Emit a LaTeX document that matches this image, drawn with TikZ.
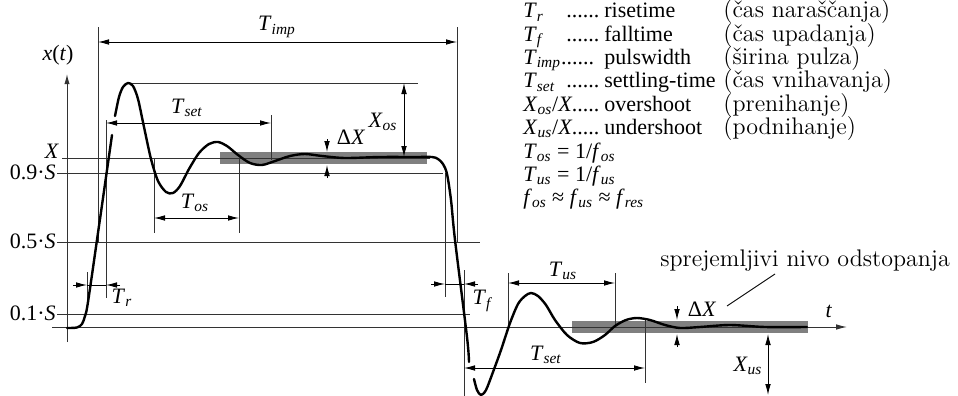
\documentclass[tikz,border=0pt]{standalone}
\usepackage{fontspec}
\usetikzlibrary{arrows.meta, positioning, calc}
\newfontfamily\tms{Liberation Serif}
\newcommand\lbl[2]{\textit{#1}\textsubscript{\textit{#2}}}
\tikzset{
	refline/.style ={line width=0.5pt, black!80},
	dimline/.style ={line width=0.45pt},
	dimarr/.style  ={line width=0.45pt, -{Latex[length=5.5pt, width=2.8pt]}},
	dimboth/.style ={line width=0.45pt, {Latex[length=5.5pt, width=2.8pt]}-{Latex[length=5.5pt, width=2.8pt]}},
	response/.style={line width=1.2pt, line join=round, line cap=round},
	tolband/.style ={fill=black!50, draw=none},
	lab/.style     ={font=\tms\fontsize{11}{13}\selectfont, inner sep=1pt},
	slo/.style     ={font=\fontsize{12}{14}\selectfont, inner sep=0pt, anchor=base west},
}
\begin{document}
\begin{tikzpicture}[x=0.5pt, y=-0.5pt]
	\useasboundingbox (0,0) rectangle (958,396);
	% tolerance bands
	\fill[tolband] (220,152) rectangle (427,164);
	\fill[tolband] (572,321) rectangle (808,333);
	% axes
	\draw[refline, -{Latex[length=5pt, width=2.6pt]}] (67,342) -- (67,74);
	\draw[refline, -{Latex[length=5.5pt, width=2.8pt]}] (52,327) -- (847,327);
	\node[lab] (xt) at (58,55) {\textit{x}(\textit{t})};
	\node[lab] (t) at (829,311) {\textit{t}};
	% levels
	\draw[refline] (130,83) -- (418,83);
	\draw[refline] (62,158) -- (430,158);
	\draw[refline] (57,173) -- (443,173);
	\draw[refline] (57,242) -- (480,242);
	\draw[refline] (57,314) -- (470,314);
	\node[lab] (lX) at (52,151) {\textit{X}};
	\node[lab, anchor=east] (l90) at (58,172) {0.9·\textit{S}};
	\node[lab, anchor=east] (l50) at (58,241) {0.5·\textit{S}};
	\node[lab, anchor=east] (l10) at (58,313) {0.1·\textit{S}};
	% extension lines
	\foreach \x/\ya/\yb in {98/27/242, 457/27/242, 106/120/298, 87/272/302, 271/115/160,
		154/158/233, 239/158/233, 445/173/297, 464/270/396, 508/273/327, 615/273/327, 645/320/383}
		\draw[refline] (\x,\ya) -- (\x,\yb);
	% response
	\draw[response] plot[smooth, tension=0.5] coordinates {(67,328) (77,327.5) (82,324) (85,316) (88,302) (100,219) (112,135)};
	\draw[response] plot[smooth, tension=0.5] coordinates {(115,116) (119,97) (123,87) (128,83) (133,86) (138,99) (144,127)
		(151,159) (158,181) (166,192) (173,193) (180,186) (189,169) (199,153) (209,144) (218,142) (227,146) (238,155)
		(250,163) (262,165) (275,161) (290,156) (305,154) (322,156) (345,158) (380,157) (415,157) (432,157) (438,159)
		(443,164) (447,174) (451,200) (455,240) (467,337) (469,362)};
	\draw[response] plot[smooth, tension=0.5] coordinates {(474,379) (477,390) (481,395) (486,390) (493,372) (501,350)
		(510,323) (518,304) (525,296) (531,293) (538,296) (546,305) (555,320) (567,335) (580,343) (593,342) (605,335)
		(615,326) (626,320) (637,318) (650,320) (665,325) (680,328) (700,327) (730,325) (765,327) (807,327)};
	% dimensions
	\draw[dimboth] (98,42) -- (457,42);
	\node[lab] (timp) at (277,27) {\lbl{T}{imp}};
	\draw[dimboth] (106,123) -- (271,123);
	\node[lab] (tset) at (187,108) {\lbl{T}{set}};
	\draw[dimboth] (154,218) -- (239,218);
	\node[lab] (tos) at (195,203) {\lbl{T}{os}};
	\draw[dimboth] (404,83) -- (404,157);
	\node[lab] (xos) at (383,122) {\lbl{X}{os}};
	\draw[dimarr] (327,139) -- (327,152);
	\draw[dimarr] (327,178) -- (327,165);
	\node[lab] (dx1) at (351,137) {\textup{Δ}\textit{X}};
	\draw[dimarr] (73,285) -- (87,285);
	\draw[dimarr] (120,285) -- (106,285);
	\draw[dimline] (87,285) -- (106,285);
	\node[lab] (tr) at (122,298) {\lbl{T}{r}};
	\draw[dimarr] (431,284) -- (445,284);
	\draw[dimarr] (478,284) -- (464,284);
	\draw[dimline] (445,284) -- (464,284);
	\node[lab] (tf) at (483,301) {\lbl{T}{f}};
	\draw[dimboth] (508,283) -- (615,283);
	\node[lab] (tus) at (563,271) {\lbl{T}{us}};
	\draw[dimboth] (464,368) -- (645,368);
	\node[lab] (tset2) at (546,355) {\lbl{T}{set}};
	\draw[dimarr] (677,306) -- (677,320);
	\draw[dimarr] (677,347) -- (677,334);
	\node[lab] (dx2) at (702,309) {\textup{Δ}\textit{X}};
	\draw[dimboth] (768,334) -- (768,395);
	\node[lab] (xus) at (748,366) {\lbl{X}{us}};
	% callout
	\node[slo] (note) at (660,266) {sprejemljivi nivo odstopanja};
	\coordinate (notestart) at (727,306);
	\coordinate (noteend) at (775,274);
	\draw[dimline] (notestart) -- (noteend);
	% legend
	\foreach \k/\d/\s [count=\i from 0] in {{\lbl{T}{r}\hfill......}/risetime/(čas naraščanja),
		{\lbl{T}{f}\hfill......}/falltime/(čas upadanja),
		{\lbl{T}{imp}......\hfill}/pulswidth/(širina pulza),
		{\lbl{T}{set}\hfill......}/settling-time/(čas vnihavanja),
		{\lbl{X}{os}/\textit{X}.....\hfill}/overshoot/(prenihanje),
		{\lbl{X}{us}/\textit{X}.....\hfill}/undershoot/(podnihanje)} {
		\node[lab, anchor=base west, inner sep=0pt] at (523,{18+23.3*\i}) {\makebox[38pt][l]{\k}};
		\node[lab, anchor=base west, inner sep=0pt] at (604,{18+23.3*\i}) {\d};
		\node[slo] at (723,{18+23.3*\i}) {\s};
	}
	\node[lab, anchor=base west, inner sep=0pt] (fos) at (523,158) {\lbl{T}{os} = 1/\lbl{f}{os}};
	\node[lab, anchor=base west, inner sep=0pt] (fus) at (523,181) {\lbl{T}{us} = 1/\lbl{f}{us}};
	\node[lab, anchor=base west, inner sep=0pt] (fres) at (523,204) {\lbl{f}{os} ≈ \lbl{f}{us} ≈ \lbl{f}{res}};
\end{tikzpicture}
\end{document}
